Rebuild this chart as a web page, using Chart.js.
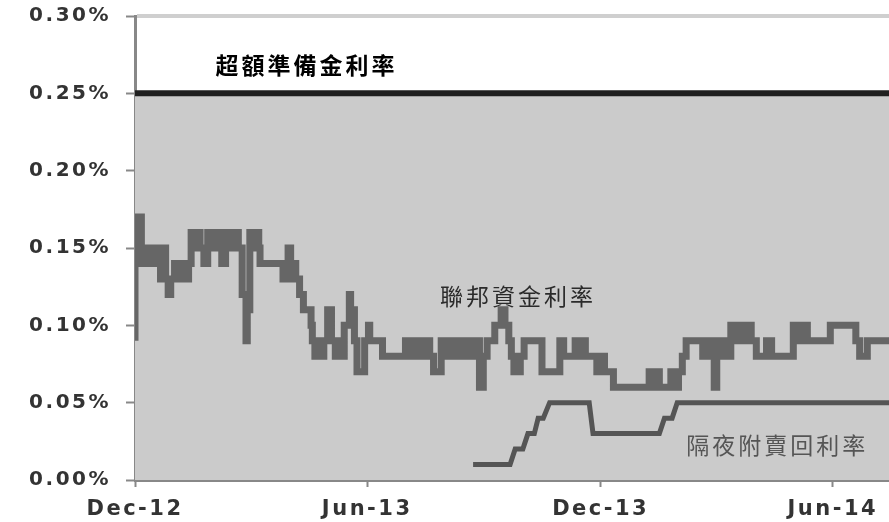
<!DOCTYPE html>
<html>
<head>
<meta charset="utf-8">
<script src="https://cdn.jsdelivr.net/npm/chart.js@4.4.1/dist/chart.umd.min.js"></script>
<style>
  html, body { margin: 0; padding: 0; background: #fff; }
  #wrap { width: 889px; height: 522px; }
</style>
</head>
<body>
<div id="wrap"><canvas id="rates"></canvas></div>
<script>
// x values are days counted from 1 Dec 2012
var tickDays = [0, 182, 365, 547];
var tickLabels = ["Dec-12", "Jun-13", "Dec-13", "Jun-14"];
var lastDay = 591;
var topRate = 0.30;

// interest on excess reserves
var ioerDays = [0, 591];
var ioerRates = [0.25, 0.25];

// effective fed funds rate
var fedDays = [0, 1, 3, 5, 7, 9, 11, 13, 15, 20, 22, 24, 26, 28, 31, 33, 36, 39, 42, 44,
  45, 48, 51, 54, 57, 62, 65, 68, 71, 75, 78, 81, 84, 87, 88, 90, 92, 95, 97, 98,
  116, 118, 120, 122, 124, 126, 129, 132, 138, 139, 141, 143, 146, 148, 151, 154, 157, 158, 161, 164,
  168, 169, 172, 174, 180, 183, 184, 194, 212, 216, 220, 224, 227, 231, 234, 240, 243, 246, 250, 254,
  258, 261, 263, 267, 270, 273, 276, 282, 287, 290, 293, 295, 297, 302, 305, 319, 333, 336, 345, 348,
  350, 353, 362, 366, 368, 375, 403, 406, 408, 411, 420, 424, 426, 429, 432, 445, 448, 451, 454, 456,
  458, 461, 464, 467, 469, 473, 476, 480, 483, 487, 495, 499, 516, 519, 524, 527, 545, 565, 568, 574,
  580, 591];
var fedRates = [0.09, 0.17, 0.16, 0.17, 0.14, 0.15, 0.14, 0.15, 0.14, 0.15, 0.13, 0.15, 0.13, 0.12, 0.13, 0.14, 0.13, 0.14, 0.13, 0.14,
  0.16, 0.15, 0.16, 0.15, 0.14, 0.16, 0.15, 0.16, 0.14, 0.16, 0.15, 0.16, 0.15, 0.12, 0.09, 0.11, 0.16, 0.15, 0.16, 0.15,
  0.14, 0.13, 0.14, 0.15, 0.13, 0.14, 0.13, 0.12, 0.11, 0.10, 0.09, 0.08, 0.09, 0.08, 0.09, 0.11, 0.09, 0.08, 0.09, 0.08,
  0.10, 0.12, 0.11, 0.09, 0.07, 0.09, 0.10, 0.09, 0.08, 0.09, 0.08, 0.09, 0.08, 0.09, 0.08, 0.07, 0.09, 0.08, 0.09, 0.08,
  0.09, 0.08, 0.09, 0.08, 0.09, 0.06, 0.08, 0.09, 0.10, 0.11, 0.10, 0.09, 0.08, 0.07, 0.08, 0.09, 0.07, 0.09, 0.08, 0.09,
  0.08, 0.09, 0.08, 0.07, 0.08, 0.07, 0.06, 0.07, 0.06, 0.07, 0.06, 0.07, 0.06, 0.07, 0.08, 0.09, 0.08, 0.09, 0.08, 0.06,
  0.09, 0.08, 0.09, 0.08, 0.10, 0.09, 0.10, 0.09, 0.10, 0.09, 0.08, 0.09, 0.08, 0.10, 0.09, 0.10, 0.09, 0.10, 0.09, 0.08,
  0.09, 0.09];

// overnight reverse repo rate
var rrpDays = [265, 294, 298, 304, 308, 313, 316, 320, 325, 356, 359, 411, 415, 421, 425, 591];
var rrpRates = [0.01, 0.01, 0.02, 0.02, 0.03, 0.03, 0.04, 0.04, 0.05, 0.05, 0.03, 0.03, 0.04, 0.04, 0.05, 0.05];

var noteText = ["超額準備金利率", "聯邦資金利率", "隔夜附賣回利率"];
var noteDays = [63, 239, 432];
var noteRates = [0.268, 0.119, 0.0226];

function toPoints(days, rates) {
  return days.map(function (d, i) { return { x: d, y: rates[i] }; });
}

// wide look of the axis text
var spacing = {
  id: "spacing",
  beforeUpdate: function (chart) { chart.ctx.letterSpacing = "2.5px"; },
  beforeDraw: function (chart) { chart.ctx.letterSpacing = "2.5px"; }
};

// light frame line along the top of the plot
var frameTop = {
  id: "frameTop",
  afterDraw: function (chart) {
    var c = chart.ctx, a = chart.chartArea;
    var yPix = chart.scales.y.getPixelForValue(topRate);
    c.save();
    c.strokeStyle = "#cfcfcf";
    c.lineWidth = 4;
    c.beginPath();
    c.moveTo(a.left + 2, yPix);
    c.lineTo(a.right, yPix);
    c.stroke();
    c.restore();
  }
};

var notes = {
  id: "notes",
  afterDatasetsDraw: function (chart) {
    var ctx = chart.ctx;
    var xs = chart.scales.x, ys = chart.scales.y;
    var styles = [["bold", "#000"], ["normal", "#2b2b2b"], ["normal", "#555"]];
    ctx.save();
    ctx.letterSpacing = "3px";
    ctx.textAlign = "left";
    ctx.textBaseline = "middle";
    noteText.forEach(function (t, i) {
      ctx.font = styles[i][0] + " 23px 'Noto Sans CJK TC'";
      ctx.fillStyle = styles[i][1];
      ctx.fillText(t, xs.getPixelForValue(noteDays[i]), ys.getPixelForValue(noteRates[i]));
    });
    ctx.restore();
  }
};

var ctx = document.getElementById("rates").getContext("2d");

new Chart(ctx, {
  type: "line",
  data: {
    datasets: [
      {
        data: toPoints(fedDays, fedRates),
        borderColor: "#666666",
        borderWidth: 7,
        stepped: "after",
        pointRadius: 0,
        fill: false,
        order: 1
      },
      {
        data: toPoints(rrpDays, rrpRates),
        borderColor: "#555555",
        borderWidth: 5,
        pointRadius: 0,
        fill: false,
        order: 2
      },
      {
        data: toPoints(ioerDays, ioerRates),
        borderColor: "#202020",
        borderWidth: 6,
        backgroundColor: "#cbcbcb",
        pointRadius: 0,
        fill: "origin",
        order: 3
      }
    ]
  },
  options: {
    responsive: true,
    maintainAspectRatio: false,
    animation: false,
    layout: { padding: { top: 16, right: 0, bottom: 0, left: 0 } },
    plugins: {
      legend: { display: false },
      tooltip: { enabled: false }
    },
    scales: {
      x: {
        type: "linear",
        min: 0,
        max: lastDay,
        afterBuildTicks: function (scale) {
          scale.ticks = tickDays.map(function (d) { return { value: d }; });
        },
        afterFit: function (scale) {
          scale.height = 42;
          scale.paddingLeft = 0;
          scale.paddingRight = 0;
        },
        ticks: {
          autoSkip: false,
          maxRotation: 0,
          padding: 10,
          color: "#333",
          font: { family: "DejaVu Sans", weight: "bold", size: 21 },
          callback: function (value) {
            return tickLabels[tickDays.indexOf(value)];
          }
        },
        grid: {
          drawOnChartArea: false,
          tickLength: 7,
          tickColor: "#888",
          tickWidth: 2
        },
        border: { color: "#888", width: 3 }
      },
      y: {
        min: 0,
        max: topRate,
        afterFit: function (scale) {
          scale.width = 135;
          scale.paddingTop = 0;
          scale.paddingBottom = 0;
        },
        ticks: {
          stepSize: 0.05,
          padding: 15,
          color: "#333",
          font: { family: "DejaVu Sans", weight: "bold", size: 20 },
          callback: function (value) { return value.toFixed(2) + "%"; }
        },
        grid: {
          drawOnChartArea: false,
          tickLength: 9,
          tickColor: "#888",
          tickWidth: 2
        },
        border: { color: "#888", width: 3 }
      }
    }
  },
  plugins: [spacing, frameTop, notes]
});
</script>
</body>
</html>
